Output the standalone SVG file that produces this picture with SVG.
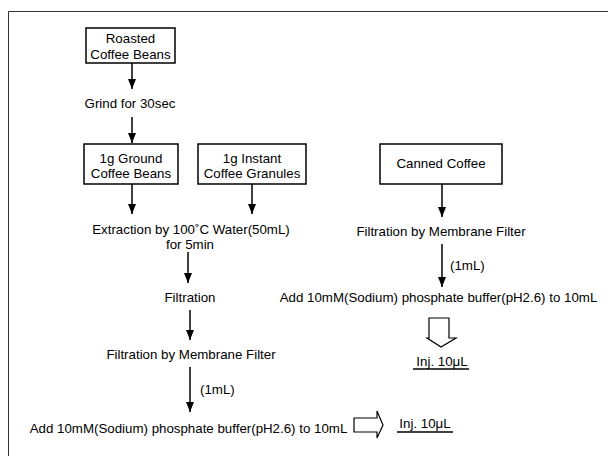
<svg xmlns="http://www.w3.org/2000/svg" width="608" height="456" viewBox="0 0 608 456">
<style>
text{font-family:"Liberation Sans",Arial,sans-serif;font-size:13.3px;fill:#000}
.c{text-anchor:middle}
.box{fill:#fff;stroke:#000;stroke-width:1.5}
.ln{stroke:#000;stroke-width:1.5;fill:none}
.hollow{fill:#fff;stroke:#000;stroke-width:1.2;stroke-linejoin:miter}
</style>
<defs>
<marker id="ah" viewBox="0 0 10 8" refX="10" refY="4" markerWidth="10" markerHeight="8" markerUnits="userSpaceOnUse" orient="auto">
<path d="M0,0 L10,4 L0,8 z" fill="#000"/>
</marker>
</defs>
<rect width="608" height="456" fill="#fff"/>
<path d="M8.5,470 V11.5 H620" fill="none" stroke="#333" stroke-width="1"/>

<g id="roasted"><rect class="box" x="86" y="28" width="89" height="35"/><text class="c" x="130.5" y="43">Roasted</text><text class="c" x="130.5" y="59">Coffee Beans</text></g>
<g id="grind"><text class="c" x="130" y="108">Grind for 30sec</text></g>
<g id="ground"><rect class="box" x="84" y="144" width="94" height="40"/><text class="c" x="131" y="163">1g Ground</text><text class="c" x="131" y="178">Coffee Beans</text></g>
<g id="instant"><rect class="box" x="198" y="144" width="108" height="40"/><text class="c" x="252" y="163">1g Instant</text><text class="c" x="252" y="178">Coffee Granules</text></g>
<g id="extraction"><text class="c" x="191" y="234">Extraction by 100˚C Water(50mL)</text><text class="c" x="190" y="249">for 5min</text></g>
<g id="filtration"><text class="c" x="190" y="302">Filtration</text></g>
<g id="membrane-left"><text class="c" x="191" y="359">Filtration by Membrane Filter</text></g>
<g id="add-left"><text class="c" x="188.5" y="433">Add 10mM(Sodium) phosphate buffer(pH2.6) to 10mL</text></g>
<g id="inj-left"><text class="c" x="425" y="428">Inj. 10μL</text><line class="ln" x1="397" y1="432" x2="453" y2="432"/></g>

<g id="canned"><rect class="box" x="380" y="144" width="122" height="40"/><text class="c" x="441" y="168">Canned Coffee</text></g>
<g id="membrane-right"><text class="c" x="441" y="236">Filtration by Membrane Filter</text></g>
<g id="add-right"><text class="c" x="438.5" y="302">Add 10mM(Sodium) phosphate buffer(pH2.6) to 10mL</text></g>
<g id="inj-right"><text class="c" x="442" y="366">Inj. 10μL</text><line class="ln" x1="413" y1="369" x2="469" y2="369"/></g>

<g id="connectors">
<line class="ln" x1="132" y1="63" x2="132" y2="89" marker-end="url(#ah)"/>
<line class="ln" x1="132" y1="117" x2="132" y2="143" marker-end="url(#ah)"/>
<line class="ln" x1="132" y1="184" x2="132" y2="214" marker-end="url(#ah)"/>
<line class="ln" x1="252" y1="184" x2="252" y2="214" marker-end="url(#ah)"/>
<line class="ln" x1="188" y1="252" x2="188" y2="283" marker-end="url(#ah)"/>
<line class="ln" x1="190" y1="310" x2="190" y2="340" marker-end="url(#ah)"/>
<line class="ln" x1="190" y1="367" x2="190" y2="412" marker-end="url(#ah)"/>
<text x="200" y="394">(1mL)</text>
<path class="hollow" d="M354,418 H377 V411 L383,425 L377,438 V432 H354 Z"/>
<line class="ln" x1="442" y1="184" x2="442" y2="217" marker-end="url(#ah)"/>
<line class="ln" x1="442" y1="244" x2="442" y2="287" marker-end="url(#ah)"/>
<text x="450" y="270">(1mL)</text>
<path class="hollow" d="M429,318 H449 V338 H456 L441,347 L427,338 H429 Z"/>
</g>
</svg>
